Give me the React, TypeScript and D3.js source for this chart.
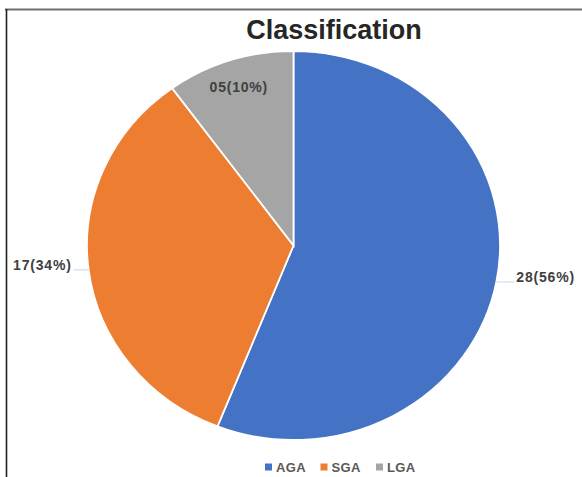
import React, { useEffect, useRef } from "react";
import * as d3 from "d3";

// Birth-weight classification counts
const categories = ["AGA", "SGA", "LGA"];
const counts = [28, 17, 5];
const colors = ["#4472C4", "#ED7D31", "#A5A5A5"];
const title = "Classification";

const W = 582;
const H = 477;

export default function App() {
  const ref = useRef<SVGSVGElement | null>(null);

  useEffect(() => {
    const svg = d3.select(ref.current);
    svg.selectAll("*").remove();

    // frame lines (top and left)
    svg.append("line").attr("x1", 5).attr("x2", W).attr("y1", 9.5).attr("y2", 9.5)
      .attr("stroke", "#6e6e6e").attr("stroke-width", 2.2);
    svg.append("line").attr("x1", 6.5).attr("x2", 6.5).attr("y1", 9).attr("y2", H)
      .attr("stroke", "#222").attr("stroke-width", 1.6);

    svg.append("text")
      .attr("x", 334).attr("y", 39)
      .attr("text-anchor", "middle")
      .attr("font-family", "'Liberation Sans', Arial, sans-serif")
      .attr("font-weight", "bold")
      .attr("font-size", 27)
      .attr("fill", "#262626")
      .text(title);

    const cx = 293.5, cy = 245.5;
    const ry = 194.5, rx = 206.5;
    const sx = rx / ry;

    const total = d3.sum(counts);
    const data = categories.map((c, i) => ({ cat: c, value: counts[i], color: colors[i] }));
    const pie = d3.pie<any>().sort(null).value((d) => d.value);
    const arcs = pie(data);
    const arc = d3.arc<any>().innerRadius(0).outerRadius(ry);

    const g = svg.append("g").attr("transform", `translate(${cx},${cy}) scale(${sx},1)`);
    g.selectAll("path").data(arcs).enter().append("path")
      .attr("d", arc as any)
      .attr("fill", (d: any) => d.data.color)
      .attr("stroke", "#ffffff")
      .attr("stroke-width", 1.8)
      .attr("vector-effect", "non-scaling-stroke");

    const fmt2 = d3.format("02d");
    const labelText = (v: number) => `${fmt2(v)}(${Math.round((v / total) * 100)}%)`;
    const labelFont = "'Liberation Sans', Arial, sans-serif";

    arcs.forEach((d: any) => {
      const mid = (d.startAngle + d.endAngle) / 2;
      const share = d.value / total;
      if (share < 0.15) {
        // small slice: label inside
        const r = ry * 0.857;
        const x = cx + Math.sin(mid) * r * sx;
        const y = cy - Math.cos(mid) * r;
        svg.append("text")
          .attr("x", x).attr("y", y + 5)
          .attr("text-anchor", "middle")
          .attr("font-family", labelFont).attr("font-weight", "bold")
          .attr("font-size", 14).attr("letter-spacing", 0.8)
          .attr("fill", "#404040")
          .text(labelText(d.value));
      } else {
        const px = cx + Math.sin(mid) * rx;
        const py = cy - Math.cos(mid) * ry;
        const right = Math.sin(mid) > 0;
        const lx = right ? px + 20 : px - 17;
        svg.append("line")
          .attr("x1", px).attr("x2", right ? lx - 2 : lx + 2)
          .attr("y1", py).attr("y2", py)
          .attr("stroke", "#c9d6e6").attr("stroke-width", 1);
        svg.append("text")
          .attr("x", lx).attr("y", py)
          .attr("text-anchor", right ? "start" : "end")
          .attr("font-family", labelFont).attr("font-weight", "bold")
          .attr("font-size", 14).attr("letter-spacing", 0.8)
          .attr("fill", "#404040")
          .text(labelText(d.value));
      }
    });

    // legend
    const lx = d3.scalePoint<string>().domain(categories).range([265, 376]);
    const ly = 467;
    const lg = svg.append("g");
    data.forEach((d) => {
      const x = lx(d.cat) as number;
      lg.append("rect").attr("x", x).attr("y", ly - 3.5).attr("width", 7).attr("height", 7)
        .attr("fill", d.color);
      lg.append("text").attr("x", x + 11).attr("y", ly + 5)
        .attr("font-family", labelFont).attr("font-weight", "bold")
        .attr("font-size", 13).attr("letter-spacing", 0.4)
        .attr("fill", "#595959")
        .text(d.cat);
    });
  }, []);

  return (
    <svg
      ref={ref}
      width={W}
      height={H}
      style={{ position: "absolute", left: 0, top: 0, background: "#fff" }}
    />
  );
}
